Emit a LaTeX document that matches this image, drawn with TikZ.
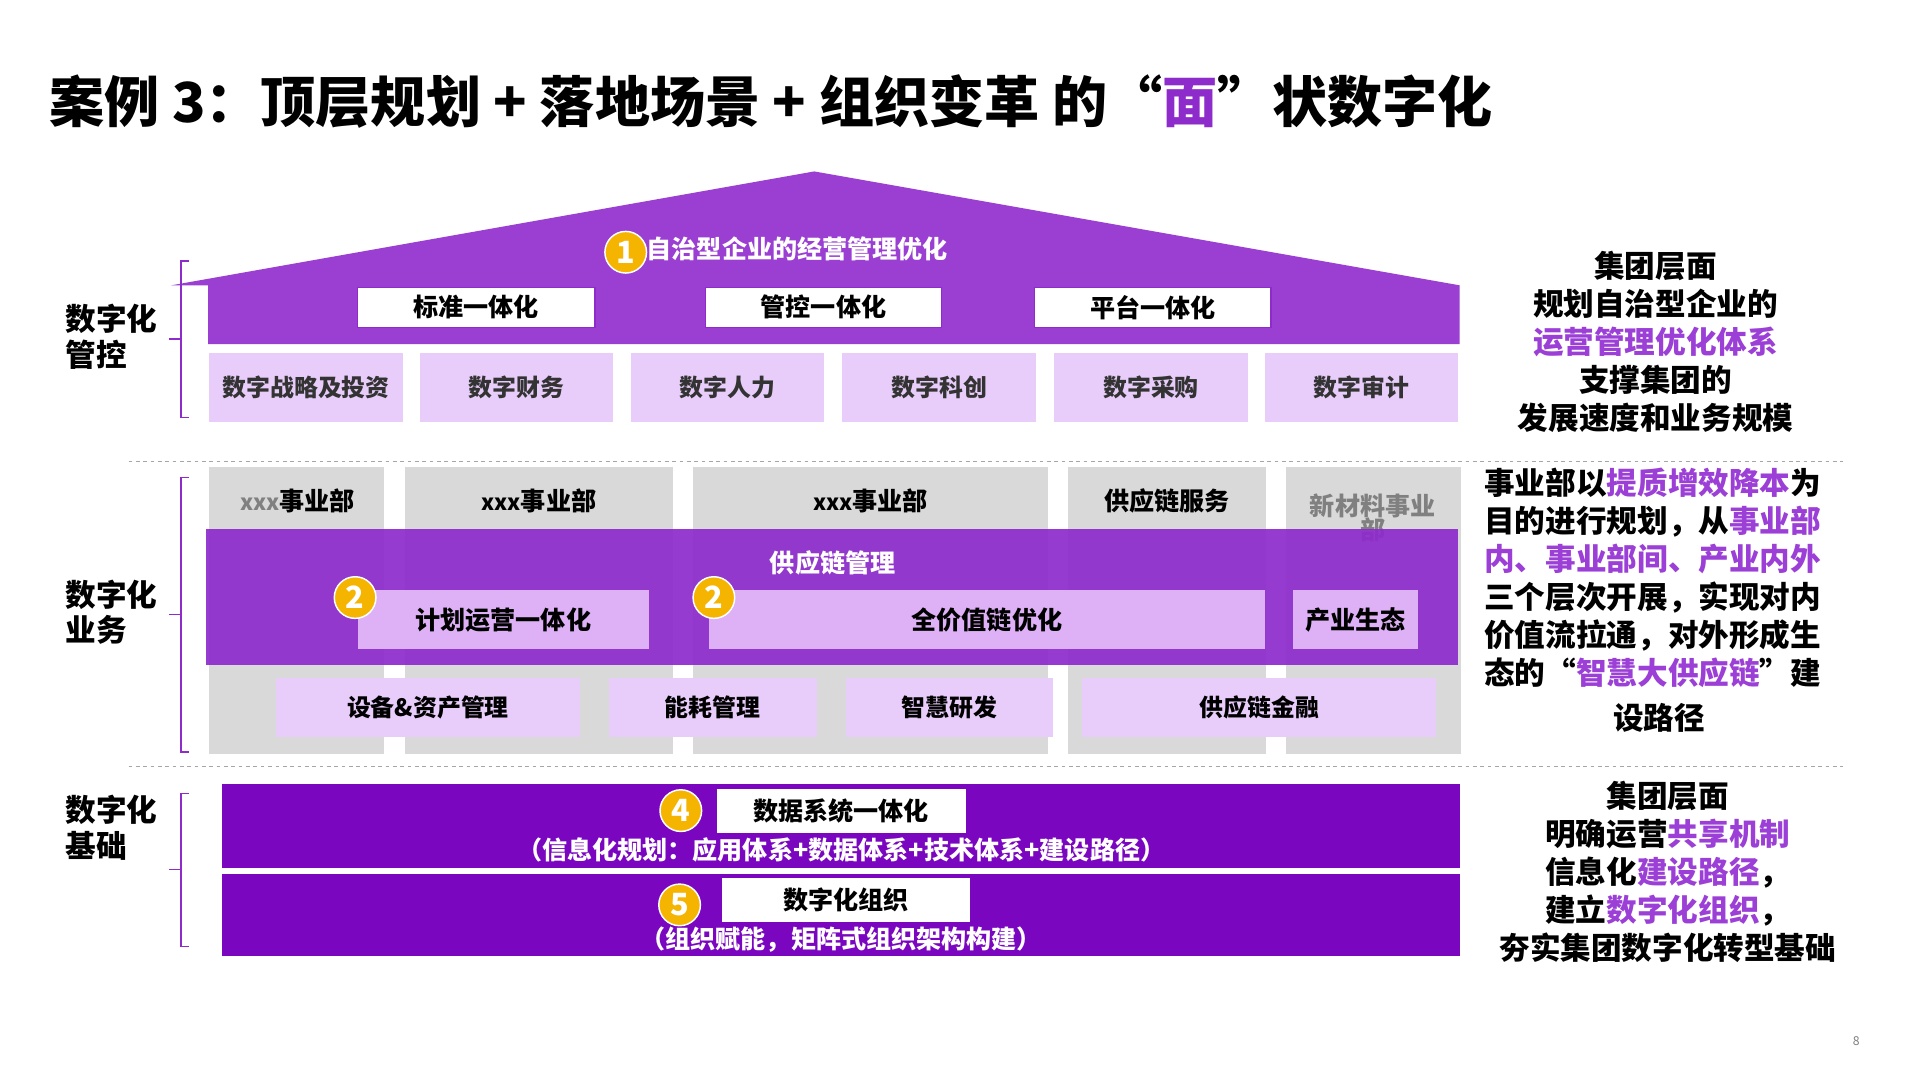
\documentclass[tikz,border=0pt]{standalone}
\usepackage{fontspec}
\setmainfont{Noto Sans CJK SC}
\begin{document}
\begin{tikzpicture}[x=1pt,y=-1pt,font=\bfseries,
  tb/.style={font=\fontsize{20.5}{23}\selectfont\bfseries},
  lbox/.style={fill=lp,draw=none,inner sep=0},
  wbox/.style={fill=white,draw=pp,line width=1pt,inner sep=0},
  num/.style={circle,fill=og,draw=white,line width=1.2pt,minimum size=34pt,inner sep=0,text=white,font=\fontsize{25}{25}\selectfont\bfseries},
  brk/.style={draw=pp,line width=1.2pt},
  side/.style={font=\fontsize{25}{29}\selectfont\bfseries,align=left,anchor=north west},
  rt/.style={font=\fontsize{25}{31}\selectfont\bfseries},
  dl/.style={draw=gray!70,dashed,line width=1pt}]
\definecolor{pp}{HTML}{8E2BCB}
\definecolor{roof}{HTML}{9A3FD2}
\definecolor{lp}{HTML}{E8CCFA}
\definecolor{lp2}{HTML}{DEB1F7}
\definecolor{dp}{HTML}{7A06C0}
\definecolor{og}{HTML}{F5B400}
\definecolor{gy}{HTML}{D9D9D9}
\definecolor{tp}{HTML}{9B3FD6}
\useasboundingbox (0,0) rectangle (1568,882);
\fill[white] (0,0) rectangle (1568,882);
% title
\node[anchor=base west,font=\fontsize{45}{48}\selectfont\bfseries,inner sep=0] (title) at (40,100) {案例 3：顶层规划 + 落地场景 + 组织变革 的“\textcolor{pp}{面}”状数字化};
% roof
\fill[roof] (140,233) -- (665,140) -- (1192,233) -- (1192,281) -- (170,281) -- (170,233) -- cycle;
\node[num] (n1) at (511,206) {1};
\node[anchor=west,text=white,tb,inner sep=0] (t1) at (528,203) {自治型企业的经营管理优化};
\foreach \a/\b/\t/\n in {292/486/标准一体化/w1,576/769/管控一体化/w2,845/1038/平台一体化/w3}{
  \node[wbox,tb,minimum width=\b pt-\a pt,minimum height=33pt] (\n) at ({(\a+\b)/2},251) {\t};}
\foreach \a/\b/\t/\n in {171/329/数字战略及投资/g1,343/501/数字财务/g2,515/673/数字人力/g3,688/846/数字科创/g4,861/1019/数字采购/g5,1033/1191/数字审计/g6}{
  \node[lbox,font=\fontsize{19.5}{22}\selectfont\bfseries,text=black!80,minimum width=\b pt-\a pt,minimum height=57pt] (\n) at ({(\a+\b)/2},316.5) {\t};}
% left labels & brackets
\node[side] (L1) at (50,245) {数字化\\管控};
\node[side] (L2) at (50,470) {数字化\\业务};
\node[side] (L3) at (50,646) {数字化\\基础};
\draw[brk] (154,213) -- (148,213) -- (148,341) -- (154,341) (148,277) -- (138,277);
\draw[brk] (154,390) -- (148,390) -- (148,614) -- (154,614) (148,502) -- (138,502);
\draw[brk] (154,648) -- (148,648) -- (148,773) -- (154,773) (148,710) -- (138,710);
% right texts
\node[rt,align=center] (R1) at (1352,279) {集团层面\\规划自治型企业的\\\textcolor{tp}{运营管理优化体系}\\支撑集团的\\发展速度和业务规模};
\node[rt,align=left,anchor=north west,inner sep=0] (R2) at (1212,382) {事业部以\textcolor{tp}{提质增效降本}为\\目的进行规划，从\textcolor{tp}{事业部}\\\textcolor{tp}{内、事业部间、产业内外}\\三个层次开展，实现对内\\价值流拉通，对外形成生\\态的“\textcolor{tp}{智慧大供应链}”建};
\node[rt] (R2b) at (1355,586) {设路径};
\node[rt,align=center] (R3) at (1362,712) {集团层面\\明确运营\textcolor{tp}{共享机制}\\信息化\textcolor{tp}{建设路径}，\\建立\textcolor{tp}{数字化组织}，\\夯实集团数字化转型基础};
% dashed separators
\draw[dl] (105,377) -- (1505,377);
\draw[dl] (105,626) -- (1505,626);
% grey columns
\foreach \a/\b/\n in {171/314/c1,331/550/c2,566/856/c3,872/1034/c4,1050/1193/c5}{
  \fill[gy] (\a,381) rectangle (\b,616);}
\node[tb] (h1) at (243,409) {\textcolor{gray}{\fontsize{18}{20}\selectfont xxx}事业部};
\node[tb] (h2) at (440,409) {\fontsize{18}{20}\selectfont xxx\fontsize{20.5}{23}\selectfont 事业部};
\node[tb] (h3) at (711,409) {\fontsize{18}{20}\selectfont xxx\fontsize{20.5}{23}\selectfont 事业部};
\node[tb] (h4) at (953,409) {供应链服务};
\node[tb,text=gray,align=center] (h5) at (1121,423) {新材料事业\\[-3pt]部};
% purple overlay
\fill[pp,opacity=0.92] (168,432) rectangle (1191,543);
\node[tb,text=white] (scm) at (680,460) {供应链管理};
\node[lbox,fill=lp2,tb,minimum width=238pt,minimum height=48pt] (b1) at (411,506) {计划运营一体化};
\node[lbox,fill=lp2,tb,minimum width=454pt,minimum height=48pt] (b2) at (806,506) {全价值链优化};
\node[lbox,fill=lp2,tb,minimum width=102pt,minimum height=48pt] (b3) at (1107,506) {产业生态};
\node[num] (n2a) at (290,488) {2};
\node[num] (n2b) at (583,488) {2};
\foreach \a/\b/\t/\n in {225/474/设备\&资产管理/d1,497/667/能耗管理/d2,691/860/智慧研发/d3,884/1173/供应链金融/d4}{
  \node[lbox,font=\fontsize{19.5}{22}\selectfont\bfseries,minimum width=\b pt-\a pt,minimum height=48pt] (\n) at ({(\a+\b)/2},578) {\t};}
% foundation
\fill[dp] (181,640) rectangle (1192,709);
\fill[dp] (181,714) rectangle (1192,781);
\node[wbox,draw=none,tb,minimum width=203pt,minimum height=36pt] (f1) at (687,662) {数据系统一体化};
\node[wbox,draw=none,tb,minimum width=202pt,minimum height=36pt] (f2) at (691,735) {数字化组织};
\node[num] (n4) at (556,662) {4};
\node[num] (n5) at (555,739) {5};
\node[tb,text=white] (f1t) at (687,694) {（信息化规划：应用体系+数据体系+技术体系+建设路径）};
\node[tb,text=white] (f2t) at (687,767) {（组织赋能，矩阵式组织架构构建）};
\node[text=gray,font=\fontsize{10}{12}\selectfont] (pg) at (1516,850) {8};
\end{tikzpicture}
\end{document}
